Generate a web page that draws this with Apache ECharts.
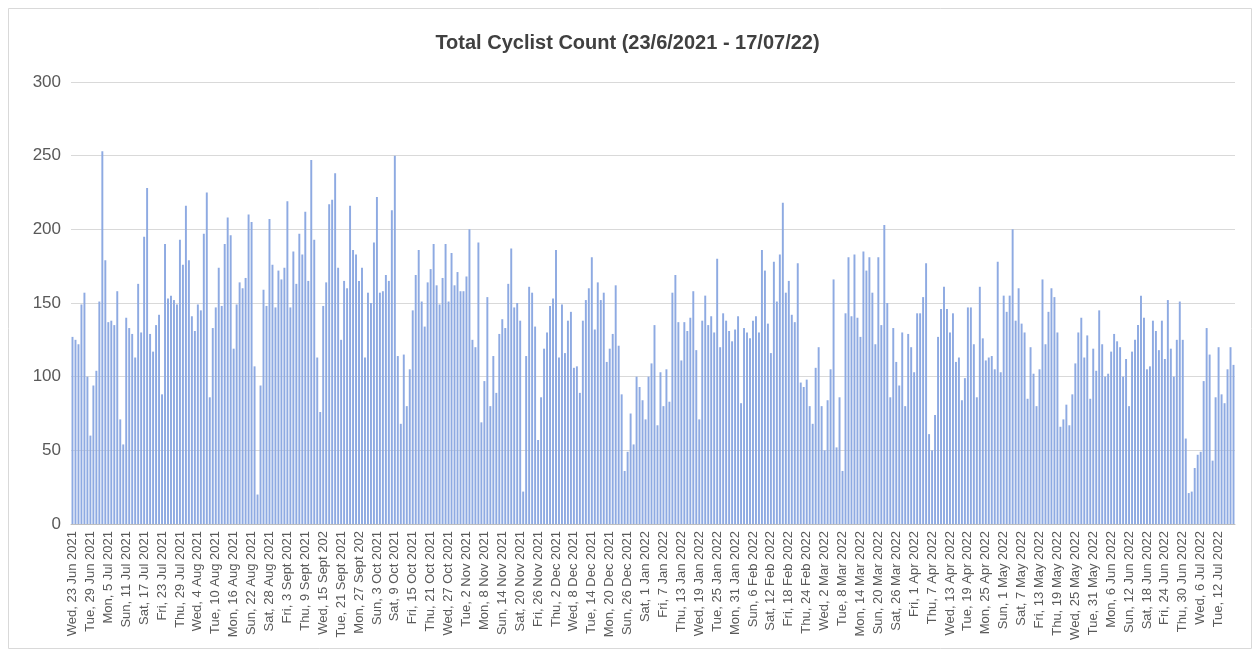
<!DOCTYPE html>
<html>
<head>
<meta charset="utf-8">
<script src="https://cdn.jsdelivr.net/npm/echarts@6/dist/echarts.min.js"></script>
<style>
  html, body { margin: 0; padding: 0; background: #fff; }
  #main { width: 1255px; height: 655px; }
</style>
</head>
<body>
<div id="main"></div>
<script>
// date range of the chart (from the title)
const START_DATE = [2021, 5, 23]; // 23 Jun 2021
const DAY_COUNT = 390;            // to 17 Jul 2022
const MONTHS = ['Jan', 'Feb', 'Mar', 'Apr', 'May', 'Jun', 'Jul', 'Aug', 'Sept', 'Oct', 'Nov', 'Dec'];
const WEEKDAYS = ['Sun', 'Mon', 'Tue', 'Wed', 'Thu', 'Fri', 'Sat'];

const yTicks = [0, 50, 100, 150, 200, 250, 300];

// daily counts
const counts2021Summer = [
  127,125,122,149,157,100,60,94,104,151,253,179,137,138,135,158,71,54,140,133,129,113,163,130,195,228,129,117,135,142,88,
  190,153,155,152,149,193,176,216,179,141,131,149,145,197,225,86,133,147,174,148,190,208,196,119,149,164,160,167,210,205,107,20,94,
  159,148,207,176,147,172,166,174,219,147,185,163,197,183,212,165,247,193,113,76,148,164,217,220,238,174,125,165,160,216,186,183,165
];
const counts2021Autumn = [
  174,113,157,150,191,222,157,158,169,165,213,250,114,68,115,80,105,145,169,186,151,134,164,173,190,162,149,167,190,151,184,162,171,
  158,158,168,200,125,120,191,69,97,154,80,114,89,129,139,133,163,187,147,150,138,22,114,161,157,134,57,86,119,130,148,153,186,
  113,149,116,138,144,106,107,89,138,152,160,181,132,164,152,157,110,119,129,162,121,88,36,49,75,54,100,93,84,71,100,109,135
];
const counts2022Winter = [
  67,103,80,105,83,157,169,137,111,137,131,140,158,118,71,138,155,135,141,130,180,120,143,138,131,124,132,141,82,133,130,126,138,
  141,130,186,172,136,116,178,151,183,218,157,165,142,137,177,96,93,98,80,68,106,120,80,50,84,105,166,52,86,36,143,181,141,
  183,140,127,185,172,181,157,122,181,135,203,150,86,133,110,94,130,80,129,120,103,143,143,154,177,61,50,74,127,146,161,146,130
];
const counts2022Spring = [
  143,110,113,84,99,147,147,122,86,161,126,111,113,114,105,178,103,155,144,155,200,138,160,136,130,85,120,102,80,105,166,122,144,
  160,154,130,66,71,81,67,88,109,130,140,113,128,85,119,104,145,122,100,102,117,129,124,120,100,112,80,117,125,135,155,140,
  105,107,138,131,118,138,112,152,119,100,125,151,125,58,21,22,38,47,49,97,133,115,43,86,120,88,82,105,120,108
];
const counts = [].concat(counts2021Summer, counts2021Autumn, counts2022Winter, counts2022Spring);

// category labels, one per day
const days = [];
for (let i = 0; i < DAY_COUNT; i++) {
  const d = new Date(START_DATE[0], START_DATE[1], START_DATE[2] + i);
  days.push(WEEKDAYS[d.getDay()] + ', ' + d.getDate() + ' ' + MONTHS[d.getMonth()] + ' ' + d.getFullYear());
}

const chart = echarts.init(document.getElementById('main'));

const option = {
  animation: false,
  backgroundColor: '#fff',
  title: {
    text: 'Total Cyclist Count (23/6/2021 - 17/07/22)',
    left: 'center',
    top: 28,
    textStyle: {
      fontFamily: 'Liberation Sans, Arial, sans-serif',
      fontSize: 20,
      fontWeight: 'bold',
      color: '#404040'
    }
  },
  graphic: [{
    type: 'rect',
    shape: { x: 8.5, y: 8.5, width: 1243, height: 640 },
    style: { fill: 'none', stroke: '#d9d9d9', lineWidth: 1 },
    silent: true
  }],
  grid: {
    left: 71,
    right: 20,
    top: 82,
    bottom: 131
  },
  xAxis: {
    type: 'category',
    data: days,
    axisLine: { lineStyle: { color: '#bfbfbf' } },
    axisTick: { show: false },
    axisLabel: {
      interval: 5,
      rotate: 90,
      margin: 7,
      fontSize: 13,
      fontFamily: 'Liberation Sans, Arial, sans-serif',
      color: '#595959',
      width: 110,
      overflow: 'truncate',
      ellipsis: ''
    }
  },
  yAxis: {
    type: 'value',
    min: yTicks[0],
    max: yTicks[yTicks.length - 1],
    interval: 50,
    axisLine: { show: false },
    axisTick: { show: false },
    axisLabel: {
      fontSize: 17,
      fontFamily: 'Liberation Sans, Arial, sans-serif',
      color: '#595959',
      margin: 10
    },
    splitLine: { lineStyle: { color: '#d9d9d9', width: 1 } }
  },
  series: [{
    name: 'Total Cyclist Count',
    type: 'bar',
    data: counts,
    barCategoryGap: '35%',
    itemStyle: { color: '#8eaae2' }
  }]
};

chart.setOption(option);
</script>
</body>
</html>
